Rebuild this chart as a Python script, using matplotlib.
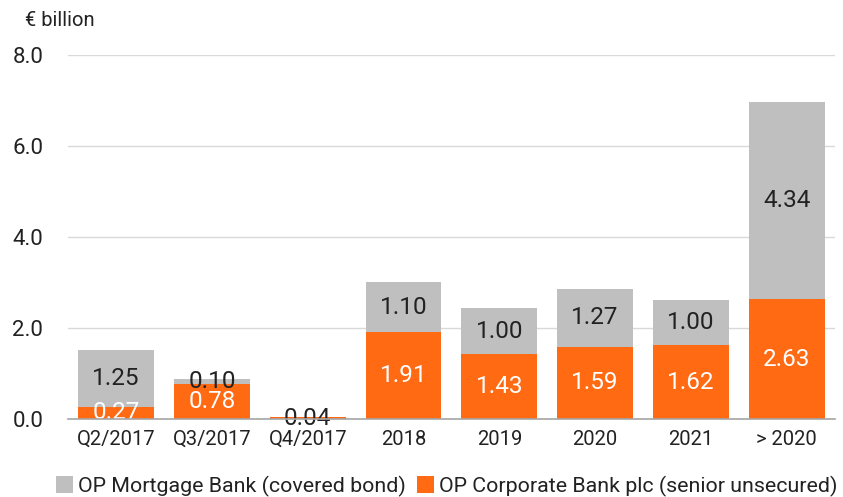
import matplotlib
matplotlib.use("Agg")
import matplotlib.pyplot as plt
import numpy as np

plt.rcParams['font.family'] = ['Roboto', 'DejaVu Sans']

# Maturities in € billion
categories = ['Q2/2017', 'Q3/2017', 'Q4/2017', '2018', '2019', '2020', '2021', '> 2020']
corporate = [0.27, 0.78, 0.04, 1.91, 1.43, 1.59, 1.62, 2.63]
mortgage = [1.25, 0.10, 0.0, 1.10, 1.00, 1.27, 1.00, 4.34]

orange = '#FF6A13'
grey = '#BFBFBF'
text_col = '#222222'

fig = plt.figure(figsize=(8.43, 4.97), dpi=100)
ax = fig.add_axes([0.081, 0.157, 0.909, 0.732])

x = np.arange(len(categories))
b_corp = ax.bar(x, corporate, width=0.79, color=orange, zorder=2,
                label='OP Corporate Bank plc (senior unsecured)')
b_mort = ax.bar(x, mortgage, width=0.79, bottom=corporate, color=grey, zorder=2,
                label='OP Mortgage Bank (covered bond)')

# value labels centred in each segment
corp_txt = ax.bar_label(b_corp, labels=[f'{v:.2f}' for v in corporate],
                        label_type='center', fontsize=17.5, color='white')
for t, v in zip(corp_txt, corporate):
    if v < 0.1:
        t.set_color(text_col)
ax.bar_label(b_mort, labels=[f'{v:.2f}' if v > 0 else '' for v in mortgage],
             label_type='center', fontsize=17.5, color=text_col)

ax.set_xlim(-0.5, 7.5)
ax.set_ylim(0, 8)
ax.set_yticks([0, 2, 4, 6, 8])
ax.set_yticklabels([f'{v:.1f}' for v in [0, 2, 4, 6, 8]])
ax.set_xticks(x)
ax.set_xticklabels(categories)
ax.tick_params(axis='y', length=0, pad=18, labelsize=16, labelcolor=text_col)
ax.tick_params(axis='x', length=0, pad=8, labelsize=14.5, labelcolor=text_col)
ax.yaxis.grid(True, color='#D9D9D9', linewidth=1, zorder=0)
ax.set_axisbelow(True)
for s in ['top', 'right', 'left']:
    ax.spines[s].set_visible(False)
ax.spines['bottom'].set_color('#A6A6A6')
ax.spines['bottom'].set_linewidth(1.2)
ax.spines['bottom'].set_zorder(3)

fig.text(0.03, 0.958, '€ billion', fontsize=14.5, color=text_col, va='center')

handles = [b_mort, b_corp]
fig.legend(handles, [h.get_label() for h in handles], loc='center',
           bbox_to_anchor=(0.53, 0.022), ncol=2, frameon=False, fontsize=15.4,
           handlelength=0.8, handleheight=0.8, handletextpad=0.25,
           columnspacing=0.5, labelcolor=text_col)

fig.savefig('out.png', dpi=100)
